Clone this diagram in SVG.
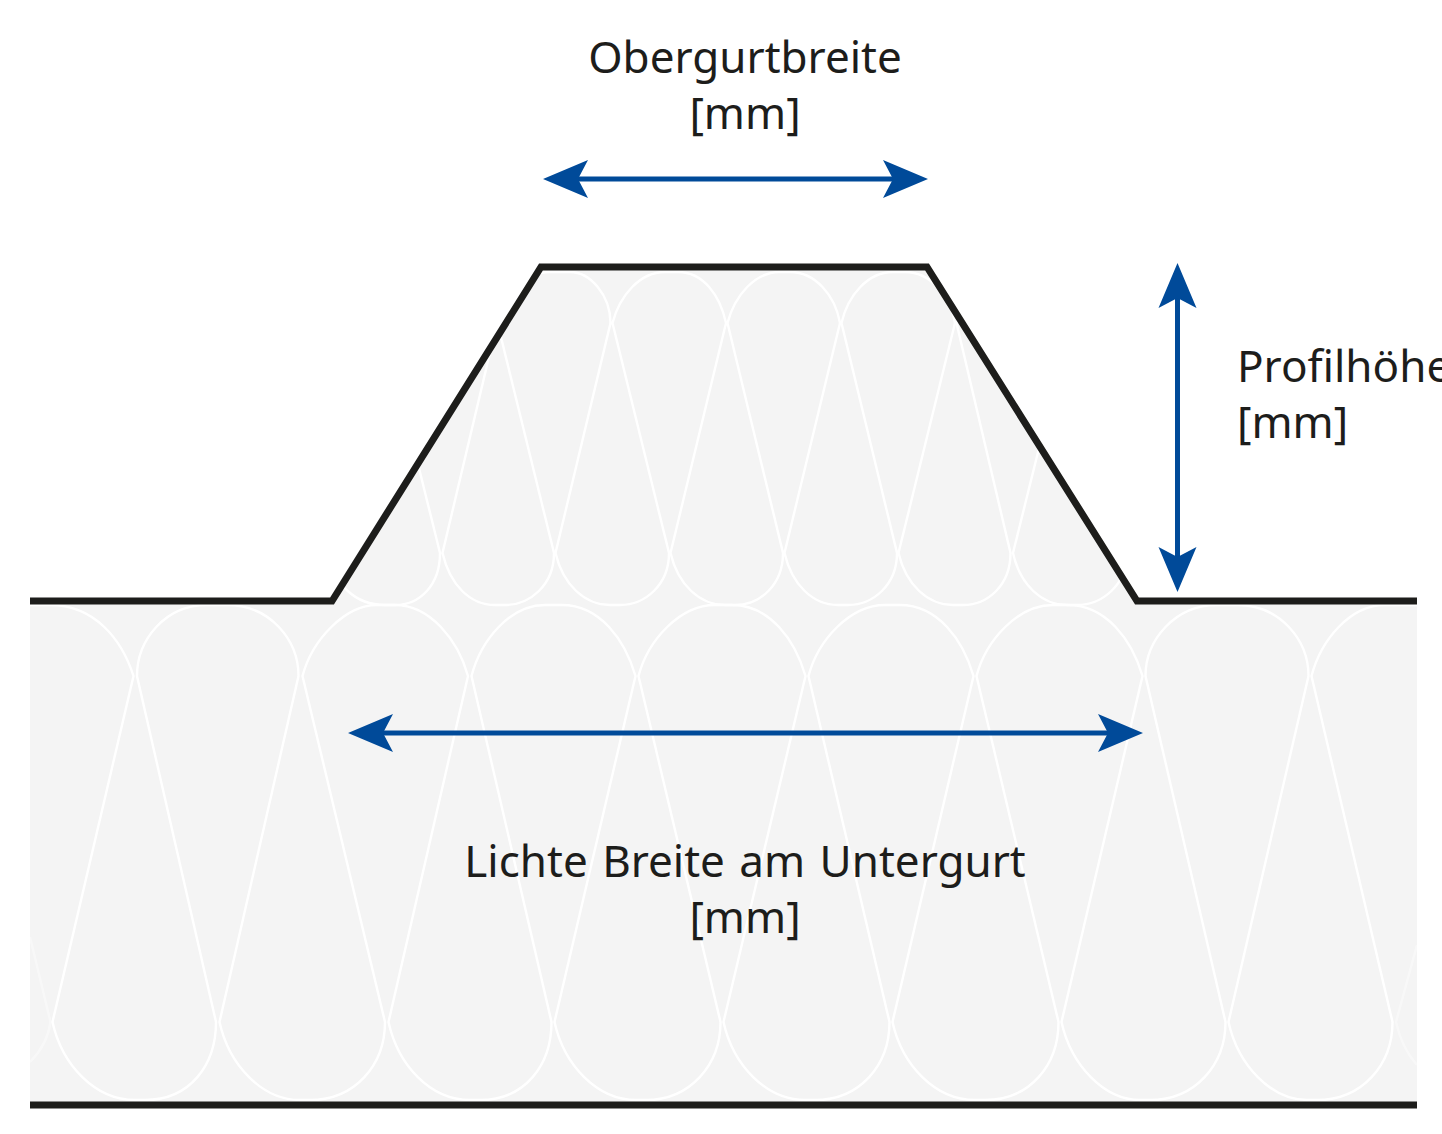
<svg xmlns="http://www.w3.org/2000/svg" width="1442" height="1134" viewBox="0 0 1442 1134">
<style>
.t{font-family:"Noto Sans","Liberation Sans",sans-serif;font-size:44px;fill:#1d1d1b}
.m{text-anchor:middle}
.w{fill:none;stroke:#fff;stroke-width:2.4}
.k{fill:none;stroke:#1d1d1b;stroke-width:7;stroke-miterlimit:10}
.a{stroke:#004a99;stroke-width:5;marker-start:url(#h);marker-end:url(#h)}
</style>
<defs>
<marker id="h" markerUnits="userSpaceOnUse" markerWidth="46" markerHeight="40" refX="34" refY="20" orient="auto-start-reverse" overflow="visible"><path d="M45 20L0 1L10 20L0 39Z" fill="#004a99"/></marker>
<clipPath id="cl"><rect x="30" y="601" width="1387" height="504"/></clipPath>
<clipPath id="cu"><path d="M332 607V601L541 267H927L1137 601V607Z"/></clipPath>
</defs>
<g id="insulation">
<path d="M30 601H1417V1105H30Z" fill="#f4f4f4"/>
<path d="M332 601L541 267H927L1137 601Z" fill="#f4f4f4"/>
<g clip-path="url(#cl)">
<path class="w" d="M30 605H50C95 605 122 640 133.5 676L52.5 1022C62 1065 95 1100 135 1100H145C190 1100 216 1065 216 1022L137 676C137 640 165 605 207 605H227C270 605 298.5 640 298.5 676L219.5 1022C229 1065 262 1100 300 1100H310C355 1100 385 1065 385 1022L302.5 676C312 640 345 605 377 605H395C430 605 458 640 468 676L388.5 1022C398 1065 430 1100 470 1100H480C525 1100 551.5 1065 551.5 1022L471.5 676C481 640 510 605 545 605H562C600 605 625 640 635.5 676L554.5 1022C564 1065 597 1100 636 1100H646C690 1100 720.5 1065 720.5 1022L638.5 676C648 640 680 605 715 605H732C770 605 795 640 805.5 676L723.5 1022C733 1065 766 1100 805 1100H815C860 1100 889.5 1065 889.5 1022L808.5 676C818 640 850 605 885 605H900C938 605 963 640 973.5 676L892.5 1022C902 1065 935 1100 975 1100H985C1030 1100 1058.5 1065 1058.5 1022L976.5 676C986 640 1018 605 1053 605H1068C1106 605 1132 640 1142.5 676L1061.5 1022C1071 1065 1104 1100 1140 1100H1150C1195 1100 1225.5 1065 1225.5 1022L1145.5 676C1145.5 640 1175 605 1217 605H1237C1280 605 1308.5 640 1308.5 676L1228.5 1022C1238 1065 1271 1100 1307 1100H1317C1362 1100 1392.5 1065 1392.5 1022L1311.5 676C1321 640 1350 605 1385 605H1417"/>
<path class="w" opacity=".4" d="M30 937L50.5 1022C48 1040 40 1052 30 1062M1417 945L1396 1022C1400 1040 1408 1055 1417 1065"/>
</g>
<g clip-path="url(#cu)">
<path class="w" d="M327 553C335 585 355 605 385 605H395C420 605 440 585 440 553L383 323C383 295 405 272 430 272H450C475 272 497 295 497 323L442.5 553C450 585 470 605 495 605H505C530 605 554 585 554 553L497.5 323C505 295 525 272 550 272H570C590 272 610.5 295 610.5 323L555.5 553C563 585 585 605 610 605H620C645 605 669 585 669 553L612.5 323C620 295 640 272 665 272H678C703 272 720 295 726 323L670.5 553C678 585 700 605 725 605H735C760 605 783 585 783 553L727.5 323C735 295 755 272 780 272H790C815 272 835 295 840 323L784.5 553C792 585 813 605 838 605H848C873 605 897 585 897 553L841.5 323C848 295 868 272 893 272H905C930 272 950 295 955 323L898.5 553C906 585 928 605 953 605H963C988 605 1010.5 585 1010.5 553L956.5 323C963 295 985 272 1010 272H1020C1045 272 1065 295 1070 323L1013 553C1020 585 1042 605 1067 605H1077C1102 605 1127 585 1127 553"/>
</g>
</g>
<g id="profile">
<path class="k" d="M30 601H332L541 267H927L1137 601H1417"/>
<path class="k" d="M30 1105H1417"/>
</g>
<g id="connectors">
<line class="a" x1="554" y1="179" x2="917" y2="179"/>
<line class="a" x1="359" y1="733" x2="1132" y2="733"/>
<line class="a" x1="1177.500" y1="274" x2="1177.500" y2="581"/>
</g>
<g id="labels">
<text class="t m" x="745" y="73">Obergurtbreite</text>
<text class="t m" x="745" y="129">[mm]</text>
<text class="t" x="1237" y="382">Profilhöhe</text>
<text class="t" x="1237" y="438">[mm]</text>
<text class="t m" x="745" y="877" word-spacing="3">Lichte Breite am Untergurt</text>
<text class="t m" x="745" y="933">[mm]</text>
</g>
</svg>
